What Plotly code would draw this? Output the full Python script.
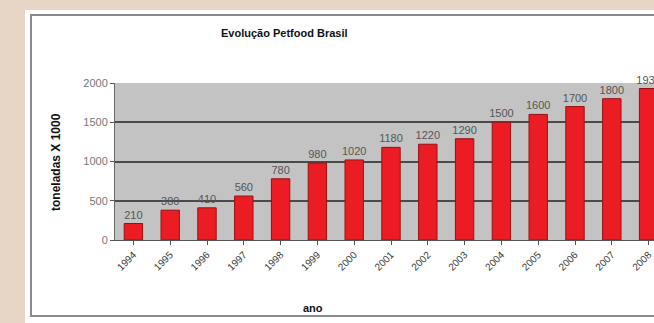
import plotly.graph_objects as go

years = ["1994", "1995", "1996", "1997", "1998", "1999", "2000", "2001",
         "2002", "2003", "2004", "2005", "2006", "2007", "2008"]
values = [210, 380, 410, 560, 780, 980, 1020, 1180, 1220, 1290,
          1500, 1600, 1700, 1800, 1930]

W, H = 654, 323
L, R, T, B = 115, 0, 83, 83
pw, ph = W - L - R, H - T - B

def px(x):
    return (x - L) / pw

def py(y):
    return (H - B - y) / ph

fig = go.Figure()
fig.add_trace(go.Bar(
    x=list(range(len(years))), y=values,
    marker=dict(color="#ec1c24", line=dict(color="#9a1010", width=1)),
    text=[str(v) for v in values], textposition="outside",
    textfont=dict(family="Liberation Sans", size=11, color="#555555"),
    constraintext="none",
    cliponaxis=False, width=0.5,
))

band = 36.8
xmax = (W - L) / band - 0.5

fig.update_layout(
    width=W, height=H,
    margin=dict(l=L, r=R, t=T, b=B, pad=0),
    paper_bgcolor="#e7d6c6",
    plot_bgcolor="#c3c3c3",
    showlegend=False,
    font=dict(family="Liberation Sans", color="#333333"),
    xaxis=dict(
        range=[-0.5, xmax], tickmode="array",
        tickvals=list(range(len(years))), ticktext=years,
        tickangle=-45, tickfont=dict(size=10, color="#3a3a3a"),
        showline=True, linecolor="#555555", linewidth=1,
        ticks="outside", ticklen=4, tickcolor="#555555",
        showgrid=False, zeroline=False,
    ),
    yaxis=dict(
        range=[0, 2000], tickvals=[0, 500, 1000, 1500, 2000],
        tickfont=dict(size=11, color="#777777"),
        showline=True, linecolor="#666666", linewidth=1,
        ticks="outside", ticklen=4, tickcolor="#555555",
        showgrid=True, gridcolor="#4a4a4a", gridwidth=1.5,
        zeroline=False,
    ),
    shapes=[
        dict(type="rect", xref="paper", yref="paper", layer="below",
             x0=px(25), x1=px(680), y0=py(340), y1=py(10),
             fillcolor="white", line=dict(width=0)),
        dict(type="rect", xref="paper", yref="paper", layer="below",
             x0=px(31), x1=px(680), y0=py(316), y1=py(15),
             fillcolor="rgba(0,0,0,0)", line=dict(color="#8a8a8a", width=2)),
        dict(type="rect", xref="paper", yref="paper", layer="below",
             x0=0, x1=1, y0=0, y1=1,
             fillcolor="#c3c3c3", line=dict(width=0)),
    ],
    annotations=[
        dict(text="<b>Evolução Petfood Brasil</b>", xref="paper", yref="paper",
             x=px(284), y=py(33), xanchor="center", yanchor="middle",
             showarrow=False, font=dict(size=11, color="#111111")),
        dict(text="<b>toneladas X 1000</b>", xref="paper", yref="paper",
             x=px(56), y=py(162), xanchor="center", yanchor="middle",
             showarrow=False, textangle=-90,
             font=dict(size=12, color="#111111")),
        dict(text="<b>ano</b>", xref="paper", yref="paper",
             x=px(313), y=py(308), xanchor="center", yanchor="middle",
             showarrow=False, font=dict(size=11, color="#111111")),
    ],
)

fig.write_html("out.html")
